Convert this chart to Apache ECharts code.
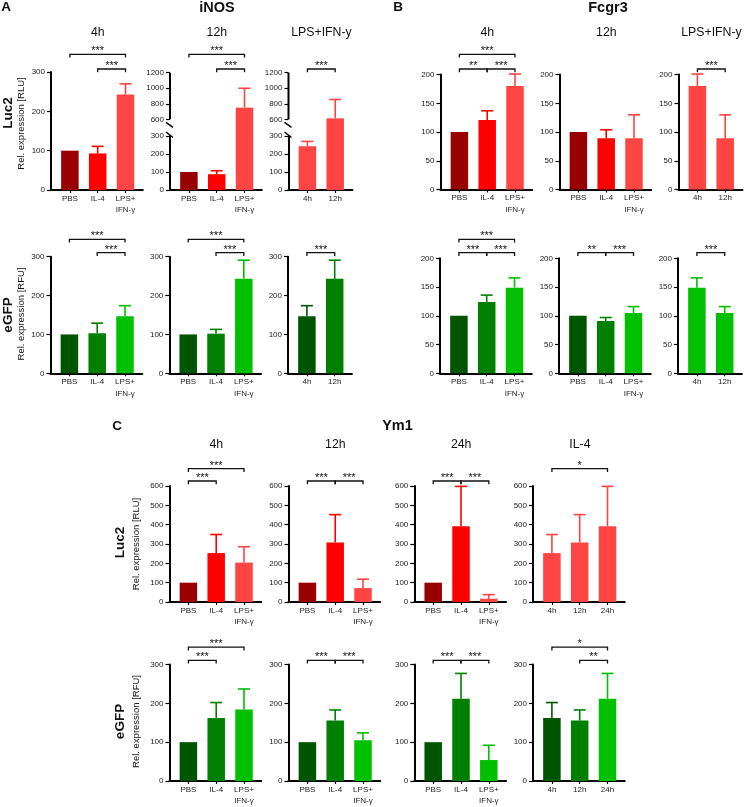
<!DOCTYPE html>
<html><head><meta charset="utf-8">
<script src="https://cdn.jsdelivr.net/npm/echarts@6/dist/echarts.min.js"></script>
<style>html,body{margin:0;padding:0;background:#fff}#c{width:746px;height:807px}</style>
</head><body><div id="c"></div>
<script>
// ---------------- categories ----------------
const condCats = ['PBS', 'IL-4', 'LPS+\nIFN-γ'];
const lpsTimeCats = ['4h', '12h'];
const il4TimeCats = ['4h', '12h', '24h'];
const brokenLowTicks = [0, 100, 200, 300];
const brokenHighTicks = [600, 800, 1000, 1200];

// ---------------- iNOS (A) ----------------
const inosLuc4h = [100, 93, 243];
const inosLuc4hUpper = [null, 111, 270];
const inosLuc12h = [100, 88, 750];
const inosLuc12hUpper = [null, 107, 1000];
const inosLucLps = [243, 612];
const inosLucLpsUpper = [270, 855];
const inosGfp4h = [100, 103, 147];
const inosGfp4hUpper = [null, 129, 174];
const inosGfp12h = [100, 102, 243];
const inosGfp12hUpper = [null, 113, 291];
const inosGfpLps = [147, 243];
const inosGfpLpsUpper = [174, 291];

// ---------------- Fcgr3 (B) ----------------
const fcgrLuc4h = [100, 121, 180];
const fcgrLuc4hUpper = [null, 137, 201];
const fcgrLuc12h = [100, 89, 89];
const fcgrLuc12hUpper = [null, 104, 130];
const fcgrLucLps = [180, 89];
const fcgrLucLpsUpper = [201, 130];
const fcgrGfp4h = [100, 124, 149];
const fcgrGfp4hUpper = [null, 136, 166];
const fcgrGfp12h = [100, 91, 105];
const fcgrGfp12hUpper = [null, 97, 116];
const fcgrGfpLps = [149, 105];
const fcgrGfpLpsUpper = [166, 116];

// ---------------- Ym1 (C) ----------------
const ymLuc4h = [100, 253, 204];
const ymLuc4hUpper = [null, 349, 286];
const ymLuc12h = [100, 308, 72];
const ymLuc12hUpper = [null, 452, 118];
const ymLuc24h = [100, 392, 17];
const ymLuc24hUpper = [null, 598, 38];
const ymLucIl4 = [253, 308, 392];
const ymLucIl4Upper = [349, 452, 598];
const ymGfp4h = [100, 162, 184];
const ymGfp4hUpper = [null, 202, 237];
const ymGfp12h = [100, 156, 105];
const ymGfp12hUpper = [null, 183, 124];
const ymGfp24h = [100, 212, 54];
const ymGfp24hUpper = [null, 277, 92];
const ymGfpIl4 = [162, 156, 212];
const ymGfpIl4Upper = [202, 183, 277];

// ---------------- significance: [from, to, label, level] ----------------
const sigInosLuc4h = [[0, 2, '***', 1], [1, 2, '***', 0]];
const sigInosLuc12h = [[0, 2, '***', 1], [1, 2, '***', 0]];
const sigInosLucLps = [[0, 1, '***', 0]];
const sigInosGfp4h = [[0, 2, '***', 1], [1, 2, '***', 0]];
const sigInosGfp12h = [[0, 2, '***', 1], [1, 2, '***', 0]];
const sigInosGfpLps = [[0, 1, '***', 0]];
const sigFcgrLuc4h = [[0, 2, '***', 1], [0, 1, '**', 0], [1, 2, '***', 0]];
const sigFcgrLuc12h = [];
const sigFcgrLucLps = [[0, 1, '***', 0]];
const sigFcgrGfp4h = [[0, 2, '***', 1], [0, 1, '***', 0], [1, 2, '***', 0]];
const sigFcgrGfp12h = [[0, 1, '**', 0], [1, 2, '***', 0]];
const sigFcgrGfpLps = [[0, 1, '***', 0]];
const sigYmLuc4h = [[0, 2, '***', 1], [0, 1, '***', 0]];
const sigYmLuc12h = [[0, 1, '***', 0], [1, 2, '***', 0]];
const sigYmLuc24h = [[0, 1, '***', 0], [1, 2, '***', 0]];
const sigYmLucIl4 = [[0, 2, '*', 1]];
const sigYmGfp4h = [[0, 2, '***', 1], [0, 1, '***', 0]];
const sigYmGfp12h = [[0, 1, '***', 0], [1, 2, '***', 0]];
const sigYmGfp24h = [[0, 1, '***', 0], [1, 2, '***', 0]];
const sigYmGfpIl4 = [[0, 2, '*', 1], [1, 2, '**', 0]];

// ---------------- styles & layout ----------------
const FONT = '"Liberation Sans", Arial, Helvetica, sans-serif';
const RD = '#990000', R = '#ff0000', RL = '#ff4444';
const GD = '#005500', G = '#007f00', GL = '#00c000';
const UNIT = 27.8, PAD_L = 0.68, PAD_R = 0.62, BAR_W = 17.5, CAP = 6;
const TICK_FS = 8;
const TICK_COLOR = '#222';

const ROWS = {
  a1: { top: 72, bottom: 190, max: 300, interval: 100, levels: [69, 54.3] },
  b1: { top: 74.6, bottom: 189.5, max: 200, interval: 50, levels: [69, 54.3] },
  a2: { top: 256.7, bottom: 373.3, max: 300, interval: 100, levels: [252.7, 239.3] },
  b2: { top: 258.3, bottom: 373.3, max: 200, interval: 50, levels: [252.7, 239.3] },
  c1: { top: 486, bottom: 602, max: 600, interval: 100, levels: [481, 468.7] },
  c2: { top: 664.5, bottom: 781, max: 300, interval: 100, levels: [660.3, 647.2] }
};
const BROKEN = { hiTop: 72.7, hiAt600: 119.3, loTop: 136, bottom: 190 };

const panels = [
  { row: 'a1', x: 51, cats: condCats, vals: inosLuc4h, up: inosLuc4hUpper, colors: [RD, R, RL], sig: sigInosLuc4h, title: '4h', titleY: 32.5 },
  { row: 'a1', x: 170, cats: condCats, vals: inosLuc12h, up: inosLuc12hUpper, colors: [RD, R, RL], sig: sigInosLuc12h, title: '12h', titleY: 32.5, broken: true },
  { row: 'a1', x: 288.5, cats: lpsTimeCats, vals: inosLucLps, up: inosLucLpsUpper, colors: [RL, RL], sig: sigInosLucLps, title: 'LPS+IFN-y', titleY: 32.5, broken: true },
  { row: 'a2', x: 50.5, cats: condCats, vals: inosGfp4h, up: inosGfp4hUpper, colors: [GD, G, GL], sig: sigInosGfp4h },
  { row: 'a2', x: 169.3, cats: condCats, vals: inosGfp12h, up: inosGfp12hUpper, colors: [GD, G, GL], sig: sigInosGfp12h },
  { row: 'a2', x: 288, cats: lpsTimeCats, vals: inosGfpLps, up: inosGfpLpsUpper, colors: [GD, G], sig: sigInosGfpLps },
  { row: 'b1', x: 440.5, cats: condCats, vals: fcgrLuc4h, up: fcgrLuc4hUpper, colors: [RD, R, RL], sig: sigFcgrLuc4h, title: '4h', titleY: 32.5 },
  { row: 'b1', x: 559.5, cats: condCats, vals: fcgrLuc12h, up: fcgrLuc12hUpper, colors: [RD, R, RL], sig: sigFcgrLuc12h, title: '12h', titleY: 32.5 },
  { row: 'b1', x: 678.5, cats: lpsTimeCats, vals: fcgrLucLps, up: fcgrLucLpsUpper, colors: [RL, RL], sig: sigFcgrLucLps, title: 'LPS+IFN-y', titleY: 32.5 },
  { row: 'b2', x: 440, cats: condCats, vals: fcgrGfp4h, up: fcgrGfp4hUpper, colors: [GD, G, GL], sig: sigFcgrGfp4h },
  { row: 'b2', x: 559, cats: condCats, vals: fcgrGfp12h, up: fcgrGfp12hUpper, colors: [GD, G, GL], sig: sigFcgrGfp12h },
  { row: 'b2', x: 678, cats: lpsTimeCats, vals: fcgrGfpLps, up: fcgrGfpLpsUpper, colors: [GL, GL], sig: sigFcgrGfpLps },
  { row: 'c1', x: 169.5, cats: condCats, vals: ymLuc4h, up: ymLuc4hUpper, colors: [RD, R, RL], sig: sigYmLuc4h, title: '4h', titleY: 445 },
  { row: 'c1', x: 288.5, cats: condCats, vals: ymLuc12h, up: ymLuc12hUpper, colors: [RD, R, RL], sig: sigYmLuc12h, title: '12h', titleY: 445 },
  { row: 'c1', x: 414.3, cats: condCats, vals: ymLuc24h, up: ymLuc24hUpper, colors: [RD, R, RL], sig: sigYmLuc24h, title: '24h', titleY: 445 },
  { row: 'c1', x: 533, cats: il4TimeCats, vals: ymLucIl4, up: ymLucIl4Upper, colors: [RL, RL, RL], sig: sigYmLucIl4, title: 'IL-4', titleY: 445 },
  { row: 'c2', x: 169.5, cats: condCats, vals: ymGfp4h, up: ymGfp4hUpper, colors: [GD, G, GL], sig: sigYmGfp4h },
  { row: 'c2', x: 288.5, cats: condCats, vals: ymGfp12h, up: ymGfp12hUpper, colors: [GD, G, GL], sig: sigYmGfp12h },
  { row: 'c2', x: 414.3, cats: condCats, vals: ymGfp24h, up: ymGfp24hUpper, colors: [GD, G, GL], sig: sigYmGfp24h },
  { row: 'c2', x: 533, cats: il4TimeCats, vals: ymGfpIl4, up: ymGfpIl4Upper, colors: [GD, G, GL], sig: sigYmGfpIl4 }
];

// ---------------- builders ----------------
const option = { animation: false, backgroundColor: '#fff', grid: [], xAxis: [], yAxis: [], series: [], graphic: [] };

function addGrid(left, top, width, height) {
  option.grid.push({ left, top, width, height, containLabel: false, outerBoundsMode: 'none' });
  return option.grid.length - 1;
}
function xAxisCfg(gi, cats, visible) {
  const idx = cats.map((_, i) => i);
  return {
    type: 'value', gridIndex: gi, min: -PAD_L, max: cats.length - 1 + PAD_R, show: visible,
    splitLine: { show: false },
    axisLine: { show: true, onZero: false, lineStyle: { color: '#000', width: 2 } },
    axisTick: { show: true, customValues: idx, length: 3, lineStyle: { color: '#000', width: 1.2 } },
    axisLabel: { customValues: idx, formatter: v => cats[Math.round(v)], fontSize: TICK_FS, color: TICK_COLOR,
      margin: 3, lineHeight: 11.5, fontFamily: FONT }
  };
}
const plainNum = v => String(Math.round(v));
function yAxisCfg(gi, extra) {
  return Object.assign({
    type: 'value', gridIndex: gi, splitLine: { show: false },
    axisLine: { show: true, onZero: false, lineStyle: { color: '#000', width: 2 } },
    axisTick: { show: true, length: 4, lineStyle: { color: '#000', width: 1.2 } },
    axisLabel: { fontSize: TICK_FS, color: TICK_COLOR, margin: 6, fontFamily: FONT, formatter: plainNum }
  }, extra);
}
function barSeries(gi, p, keep) {
  const data = [];
  p.vals.forEach((v, i) => { if (!keep || keep(v)) data.push({ value: [i, v], itemStyle: { color: p.colors[i] } }); });
  return { type: 'bar', xAxisIndex: gi, yAxisIndex: gi, barWidth: BAR_W, silent: true, z: 2, clip: true, data };
}
function errSeries(gi, p, keep) {
  const data = [];
  p.vals.forEach((v, i) => { if (p.up[i] != null && (!keep || keep(v))) data.push([i, v, p.up[i]]); });
  return {
    type: 'custom', xAxisIndex: gi, yAxisIndex: gi, clip: false, silent: true, z: 3, data,
    renderItem: (params, api) => {
      const i = api.value(0);
      const a = api.coord([i, api.value(1)]), b = api.coord([i, api.value(2)]);
      const st = { stroke: p.colors[i], lineWidth: 1.6 };
      return { type: 'group', children: [
        { type: 'line', shape: { x1: a[0], y1: a[1], x2: b[0], y2: b[1] }, style: st },
        { type: 'line', shape: { x1: b[0] - CAP, y1: b[1], x2: b[0] + CAP, y2: b[1] }, style: st }
      ] };
    }
  };
}
function sigSeries(gi, p, levels) {
  return {
    type: 'custom', xAxisIndex: gi, yAxisIndex: gi, clip: false, silent: true, z: 4,
    data: p.sig.map(s => [s[0], s[3], s[1]]),
    renderItem: (params, api) => {
      const s = p.sig[params.dataIndex];
      const xa = api.coord([s[0], 0])[0], xb = api.coord([s[1], 0])[0];
      const y = levels[s[3]];
      return { type: 'group', children: [
        { type: 'polyline', shape: { points: [[xa, y + 3.2], [xa, y], [xb, y], [xb, y + 3.2]] },
          style: { stroke: '#111', lineWidth: 1.3, fill: null } },
        { type: 'text', style: { x: (xa + xb) / 2, y: y - 3, text: s[2], align: 'center', verticalAlign: 'middle',
          fontSize: 11, fontFamily: FONT, fill: '#111' } }
      ] };
    }
  };
}
function brokenAxisSeries(gi, xmin) {
  return {
    type: 'custom', xAxisIndex: gi, yAxisIndex: gi, clip: false, silent: true, z: 5,
    data: [[xmin, brokenHighTicks[0], brokenHighTicks[brokenHighTicks.length - 1]]],
    renderItem: (params, api) => {
      const lo = api.coord([api.value(0), api.value(1)]), hi = api.coord([api.value(0), api.value(2)]);
      const x = lo[0], y = lo[1];
      const st = { stroke: '#000', lineWidth: 2 };
      const st2 = { stroke: '#000', lineWidth: 1.5 };
      return { type: 'group', children: [
        { type: 'line', shape: { x1: x, y1: y, x2: x, y2: hi[1] }, style: st },
        { type: 'line', shape: { x1: x - 4, y1: y + 3, x2: x + 3, y2: y + 8 }, style: st2 },
        { type: 'line', shape: { x1: x - 4, y1: BROKEN.loTop - 4, x2: x + 3, y2: BROKEN.loTop + 1.5 }, style: st2 }
      ] };
    }
  };
}

panels.forEach(p => {
  const r = ROWS[p.row];
  const n = p.cats.length;
  const width = (n - 1 + PAD_L + PAD_R) * UNIT;
  if (!p.broken) {
    const gi = addGrid(p.x, r.top, width, r.bottom - r.top);
    option.xAxis.push(xAxisCfg(gi, p.cats, true));
    option.yAxis.push(yAxisCfg(gi, { min: 0, max: r.max, interval: r.interval }));
    option.series.push(barSeries(gi, p), errSeries(gi, p), sigSeries(gi, p, r.levels));
  } else {
    const lowMax = brokenLowTicks[brokenLowTicks.length - 1];
    const hiLow = brokenHighTicks[0], hiMax = brokenHighTicks[brokenHighTicks.length - 1];
    // lower segment 0..300
    const gl = addGrid(p.x, BROKEN.loTop, width, BROKEN.bottom - BROKEN.loTop);
    option.xAxis.push(xAxisCfg(gl, p.cats, true));
    option.yAxis.push(yAxisCfg(gl, { min: 0, max: lowMax, interval: 100 }));
    option.series.push(barSeries(gl, p), errSeries(gl, p, v => v <= lowMax), sigSeries(gl, p, r.levels));
    // upper segment 600..1200 (grid extended down to the lower segment so bars stay continuous)
    const unitsPerPx = (hiMax - hiLow) / (BROKEN.hiAt600 - BROKEN.hiTop);
    const hiMin = hiLow - (BROKEN.loTop - BROKEN.hiAt600) * unitsPerPx;
    const gh = addGrid(p.x, BROKEN.hiTop, width, BROKEN.loTop - BROKEN.hiTop);
    option.xAxis.push(xAxisCfg(gh, p.cats, false));
    option.yAxis.push(yAxisCfg(gh, {
      min: hiMin, max: hiMax,
      axisLine: { show: false, onZero: false },
      axisTick: { show: true, customValues: brokenHighTicks, length: 4, lineStyle: { color: '#000', width: 1.2 } },
      axisLabel: { customValues: brokenHighTicks, fontSize: TICK_FS, color: TICK_COLOR, margin: 6, fontFamily: FONT, formatter: plainNum }
    }));
    option.series.push(barSeries(gh, p, v => v > lowMax), errSeries(gh, p, v => v > lowMax), brokenAxisSeries(gh, -PAD_L));
  }
  if (p.title) {
    option.graphic.push({ type: 'text', x: p.x + width / 2 + 1, y: p.titleY, silent: true,
      style: { text: p.title, fontSize: 12.3, fontFamily: FONT, fill: '#111', align: 'center', verticalAlign: 'middle' } });
  }
});

// ---------------- headings & row labels ----------------
function gText(text, x, y, size, bold, rot) {
  option.graphic.push({ type: 'text', x, y, rotation: rot ? Math.PI / 2 : 0, silent: true,
    style: { text, fontSize: size, fontWeight: bold ? 'bold' : 'normal', fontFamily: FONT, fill: '#111',
      align: 'center', verticalAlign: 'middle' } });
}
gText('A', 6, 7.5, 13.5, true);
gText('iNOS', 217, 7.5, 14.5, true);
gText('B', 398, 7.5, 13.5, true);
gText('Fcgr3', 608, 7.5, 14.5, true);
gText('C', 117, 426, 13.5, true);
gText('Ym1', 397.5, 426, 14.5, true);
gText('Luc2', 8.7, 113, 13.5, true, true);
gText('Rel. expression [RLU]', 21.7, 123.5, 9.5, false, true);
gText('eGFP', 8.7, 315, 13.5, true, true);
gText('Rel. expression [RFU]', 21.7, 314, 9.5, false, true);
gText('Luc2', 120, 542.5, 13.5, true, true);
gText('Rel. expression [RLU]', 136.7, 544, 9.5, false, true);
gText('eGFP', 120, 721.5, 13.5, true, true);
gText('Rel. expression [RFU]', 136.7, 721.5, 9.5, false, true);

const chart = echarts.init(document.getElementById('c'), null, { renderer: 'canvas' });
chart.setOption(option);
</script>
</body></html>
